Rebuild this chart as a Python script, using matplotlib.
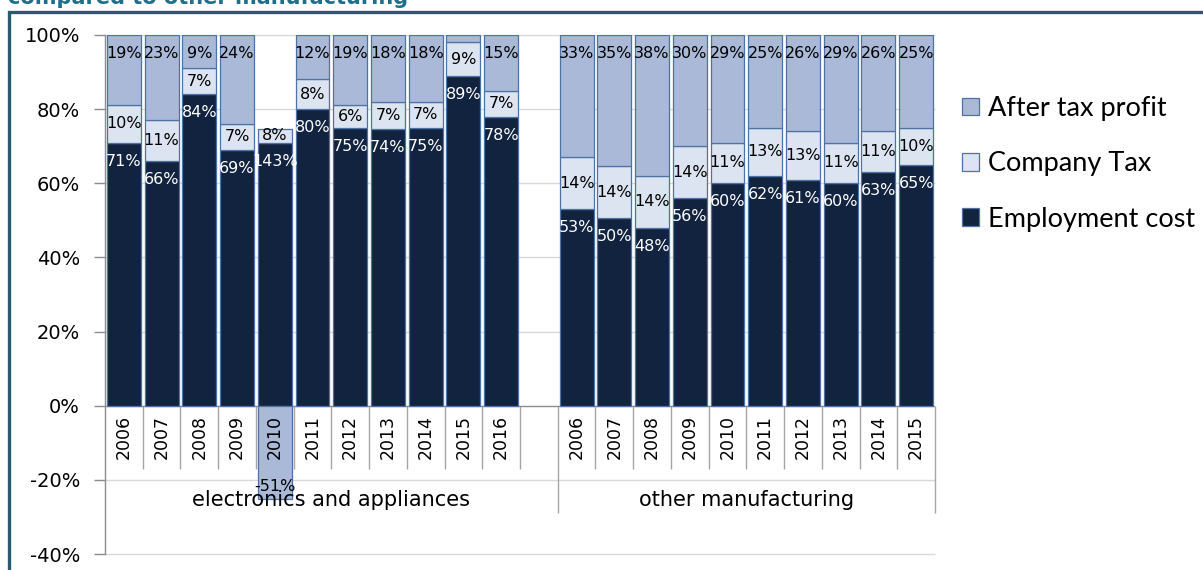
import matplotlib
matplotlib.use('Agg')
import matplotlib.pyplot as plt
import numpy as np
from matplotlib.patches import Rectangle

# ---------------- data ----------------
title = 'compared to other manufacturing'
groups = ['electronics and appliances', 'other manufacturing']
years_elec = ['2006', '2007', '2008', '2009', '2010', '2011', '2012', '2013', '2014', '2015', '2016']
years_other = ['2006', '2007', '2008', '2009', '2010', '2011', '2012', '2013', '2014', '2015']

emp_elec = [71, 66, 84, 69, 143, 80, 75, 74, 75, 89, 78]
tax_elec = [10, 11, 7, 7, 8, 8, 6, 7, 7, 9, 7]
prof_elec = [19, 23, 9, 24, -51, 12, 19, 18, 18, 2, 15]

emp_other = [53, 50, 48, 56, 60, 62, 61, 60, 63, 65]
tax_other = [14, 14, 14, 14, 11, 13, 13, 11, 11, 10]
prof_other = [33, 35, 38, 30, 29, 25, 26, 29, 26, 25]

series_names = ['Employment cost', 'Company Tax', 'After tax profit']
yticks = [-40, -20, 0, 20, 40, 60, 80, 100]

# ---------------- style ----------------
C_EMP = '#12233F'
C_TAX = '#DCE4F1'
C_PROF = '#A9B9D7'
C_EDGE = '#4C72A6'
C_GRID = '#D9D9D9'
C_AXIS = '#8C8C8C'
C_FRAME = '#2B5B6E'
C_TITLE = '#1F6E8C'

W, H = 1203, 570
fig = plt.figure(figsize=(W / 100, H / 100), dpi=100)
ax = fig.add_axes([105 / W, 16 / H, 830 / W, 519 / H])

# positions: 11 electronics slots, 1 empty slot, 10 other slots
x_elec = np.arange(len(years_elec))
x_other = np.arange(len(years_other)) + len(years_elec) + 1
x_all = np.concatenate([x_elec, x_other])
years_all = years_elec + years_other

emp = np.array(emp_elec + emp_other, dtype=float)
tax = np.array(tax_elec + tax_other, dtype=float)
prof = np.array(prof_elec + prof_other, dtype=float)

# Excel 100% stacked: each value divided by the sum of absolute values
tot = np.abs(emp) + np.abs(tax) + np.abs(prof)
emp_s = emp / tot * 100
tax_s = tax / tot * 100
prof_s = prof / tot * 100

bw = 0.9
kw = dict(width=bw, edgecolor=C_EDGE, linewidth=0.9, zorder=3)
b_emp = ax.bar(x_all, emp_s, color=C_EMP, label=series_names[0], **kw)
b_tax = ax.bar(x_all, tax_s, bottom=emp_s, color=C_TAX, label=series_names[1], **kw)
prof_bottom = np.where(prof_s >= 0, emp_s + tax_s, 0)
b_prof = ax.bar(x_all, prof_s, bottom=prof_bottom, color=C_PROF, label=series_names[2], **kw)

xmin, xmax = -0.5, len(x_all) + 0.5
ax.set_xlim(xmin, xmax)
ax.set_ylim(-40, 100)

px = 519 / 140.0  # pixels per percent
off_top = 18.5 / px
off_bot = 13 / px
lab_fs = 11.5
for i, x in enumerate(x_all):
    ax.text(x, emp_s[i] - off_top, f'{int(emp[i])}%', ha='center', va='center',
            color='white', fontsize=lab_fs, zorder=5)
    ax.text(x, emp_s[i] + tax_s[i] / 2, f'{int(tax[i])}%', ha='center', va='center',
            color='black', fontsize=lab_fs, zorder=5)
    if abs(prof_s[i]) >= 3:
        if prof_s[i] >= 0:
            yy = prof_bottom[i] + prof_s[i] - off_top
        else:
            yy = prof_s[i] + off_bot
        ax.text(x, yy, f'{int(prof[i])}%', ha='center', va='center',
                color='black', fontsize=lab_fs, zorder=5)

# y axis
ax.set_yticks(yticks)
ax.set_yticklabels([f'{v}%' for v in yticks], fontsize=14)
ax.tick_params(axis='y', length=8, width=1, color=C_AXIS, pad=10)
ax.tick_params(axis='x', bottom=False, labelbottom=False)
for s in ['top', 'right', 'bottom']:
    ax.spines[s].set_visible(False)
ax.spines['left'].set_color(C_AXIS)
ax.spines['left'].set_linewidth(1)
ax.hlines([v for v in yticks if v != 0], xmin, xmax, color=C_GRID, linewidth=1,
          zorder=0, clip_on=False)
ax.axhline(0, color=C_AXIS, linewidth=1, zorder=2)

# category table below zero
year_y = -8.4
for x, yr in zip(x_all, years_all):
    ax.text(x, year_y, yr, rotation=90, ha='center', va='center', fontsize=12.5, zorder=6)
short = [x + 0.5 for x in x_elec] + [x + 0.5 for x in x_other[:-1]]
ax.vlines(short, -17, 0, color='#A6A6A6', linewidth=1, zorder=1)
ax.vlines([len(years_elec) + 0.5, len(x_all) + 0.5], -29, 0, color='#A6A6A6', linewidth=1,
          zorder=1, clip_on=False)
ax.text((xmin + len(years_elec) + 0.5) / 2, -25.4, groups[0], ha='center', va='center',
        fontsize=15, zorder=6)
ax.text((len(years_elec) + 0.5 + xmax) / 2, -25.4, groups[1], ha='center',
        va='center', fontsize=15, zorder=6)

# legend
leg = fig.legend(handles=[b_prof, b_tax, b_emp],
                 labels=[series_names[2], series_names[1], series_names[0]],
                 loc='upper left', bbox_to_anchor=(962 / W, 1 - 96 / H), frameon=False,
                 prop={'family': 'Lato', 'size': 19.5}, handlelength=0.62, handleheight=0.62,
                 handletextpad=0.35, labelspacing=1.12, borderaxespad=0, borderpad=0)

# title (cut off) and frame
fig.text(8 / W, 1 - 4 / H, title, fontsize=15, fontweight='bold', color=C_TITLE,
         ha='left', va='baseline')
fig.patches.append(Rectangle((9 / W, -0.1), 1.5, 1 - 12 / H + 0.1, transform=fig.transFigure,
                             fill=False, edgecolor=C_FRAME, linewidth=2.4))

fig.savefig('out.png', dpi=100)
